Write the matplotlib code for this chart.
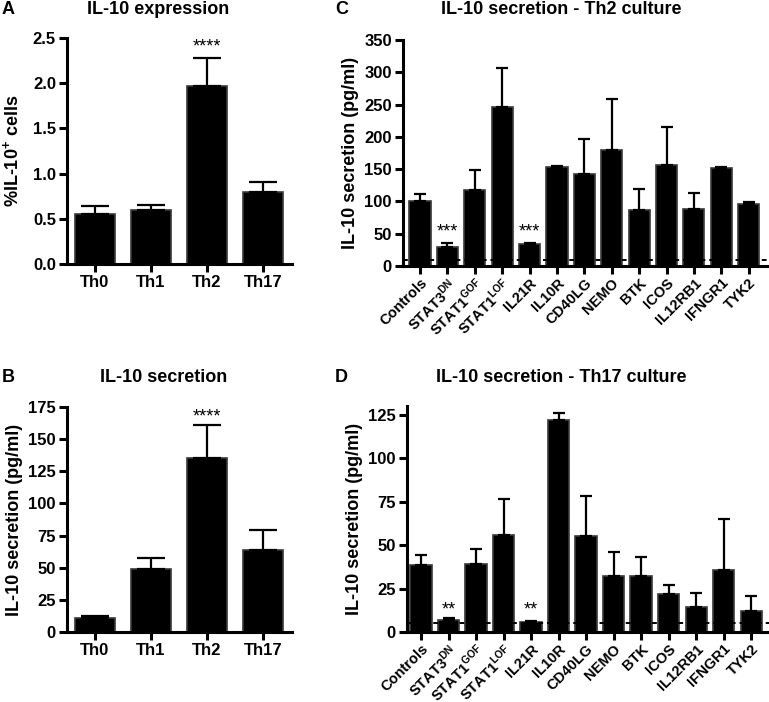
import numpy as np
import matplotlib
matplotlib.use("Agg")
import matplotlib.pyplot as plt

plt.rcParams['font.family'] = ['Liberation Sans', 'DejaVu Sans']
plt.rcParams['font.weight'] = 'bold'
plt.rcParams['mathtext.fontset'] = 'custom'
plt.rcParams['mathtext.rm'] = 'Liberation Sans'

# panel A / B data
th_groups = ['Th0', 'Th1', 'Th2', 'Th17']
expr_mean = [0.55, 0.60, 1.97, 0.80]
expr_err = [0.09, 0.05, 0.31, 0.11]
sec_mean = [10.7, 49, 135.5, 64]
sec_err = [1.8, 8.5, 25.5, 15]

# panel C / D data
genes = ['Controls', r'STAT3$^{\mathrm{DN}}$', r'STAT1$^{\mathrm{GOF}}$', r'STAT1$^{\mathrm{LOF}}$',
         'IL21R', 'IL10R', 'CD40LG', 'NEMO', 'BTK', 'ICOS', 'IL12RB1', 'IFNGR1', 'TYK2']
th2_mean = [101, 29.5, 118, 246, 34, 153, 143, 180, 87, 157, 88, 152, 96]
th2_err = [11, 6, 31, 61, 2, 2, 53, 79, 33, 58, 25, 2, 3]
th17_mean = [38.3, 7.1, 39, 56, 5.8, 122, 55, 32.5, 32.3, 22.1, 14.4, 35.6, 11.9]
th17_err = [6.2, 1.2, 9, 20.5, 0.3, 4, 23.5, 13.5, 10.8, 5, 8.3, 29.5, 9]

W, H = 769, 702
fig = plt.figure(figsize=(W / 100, H / 100), dpi=100)


def box(l, r, t, b):
    return [l / W, (H - b) / H, (r - l) / W, (b - t) / H]


def style(ax):
    for s in ['top', 'right']:
        ax.spines[s].set_visible(False)
    for s in ['left', 'bottom']:
        ax.spines[s].set_linewidth(2.2)
    ax.tick_params(width=2.2, length=6, labelsize=12, pad=2)
    for lab in ax.get_yticklabels():
        lab.set_fontweight('bold')


def bars(ax, x, mean, err, width, capsize):
    ax.bar(x, mean, width=width, color='black', edgecolor='#3a3a3a', linewidth=1.2, zorder=2)
    ax.errorbar(x, mean, yerr=[np.zeros(len(err)), err], fmt='none', ecolor='black',
                elinewidth=1.6, capsize=capsize, capthick=1.6, zorder=3)


star_kw = dict(ha='center', va='center', fontsize=13, fontweight='normal')

# A
axA = fig.add_axes(box(67, 292, 38, 264))
xa = np.arange(len(th_groups))
bars(axA, xa, expr_mean, expr_err, 0.71, 10)
axA.set_xlim(-0.5, 3.52)
axA.set_ylim(0, 2.5)
axA.set_yticks(np.arange(0, 2.51, 0.5))
axA.set_yticklabels([f'{v:.1f}' for v in np.arange(0, 2.51, 0.5)])
axA.set_xticks(xa)
axA.set_xticklabels(th_groups, fontweight='bold')
axA.set_ylabel(r'%IL-10$^{\mathrm{+}}$ cells', fontsize=13, fontweight='bold', labelpad=8)
style(axA)
axA.text(2, 2.4, '****', **star_kw)

# B
axB = fig.add_axes(box(67, 292, 407, 632))
bars(axB, xa, sec_mean, sec_err, 0.71, 10)
axB.set_xlim(-0.5, 3.52)
axB.set_ylim(0, 175)
axB.set_yticks(np.arange(0, 176, 25))
axB.set_xticks(xa)
axB.set_xticklabels(th_groups, fontweight='bold')
axB.set_ylabel('IL-10 secretion (pg/ml)', fontsize=13, fontweight='bold', labelpad=4)
style(axB)
axB.text(2, 167, '****', **star_kw)

# C
axC = fig.add_axes(box(403, 769, 40, 266))
xg = np.arange(len(genes))
bars(axC, xg, th2_mean, th2_err, 0.77, 4)
axC.axhline(10, color='black', lw=1.4, ls=(0, (2.5, 2)), zorder=4)
axC.set_xlim(-0.62, 12.74)
axC.set_ylim(0, 350)
axC.set_yticks(np.arange(0, 351, 50))
axC.set_xticks(xg)
axC.set_xticklabels(genes, rotation=45, ha='right', va='top', rotation_mode='anchor',
                    fontsize=10.5, fontweight='bold')
axC.set_ylabel('IL-10 secretion (pg/ml)', fontsize=13, fontweight='bold', labelpad=4)
style(axC)
axC.tick_params(axis='x', labelsize=10.5, pad=1)
for xi in [1, 4]:
    axC.text(xi, 52, '***', **star_kw)

# D
axD = fig.add_axes(box(407, 769, 406, 632))
bars(axD, xg, th17_mean, th17_err, 0.77, 4)
axD.axhline(5, color='black', lw=1.4, ls=(0, (2.5, 2)), zorder=4)
axD.set_xlim(-0.51, 12.65)
axD.set_ylim(0, 130)
axD.set_yticks(np.arange(0, 126, 25))
axD.set_xticks(xg)
axD.set_xticklabels(genes, rotation=45, ha='right', va='top', rotation_mode='anchor',
                    fontsize=10.5, fontweight='bold')
axD.set_ylabel('IL-10 secretion (pg/ml)', fontsize=13, fontweight='bold', labelpad=4)
style(axD)
axD.tick_params(axis='x', labelsize=10.5, pad=1)
for xi in [1, 4]:
    axD.text(xi, 12.5, '**', **star_kw)

# titles and panel letters
tkw = dict(fontsize=13, fontweight='bold', ha='center', va='center')
fig.text(158 / W, 1 - 9 / H, 'IL-10 expression', **tkw)
fig.text(164 / W, 1 - 378 / H, 'IL-10 secretion', **tkw)
fig.text(561 / W, 1 - 9 / H, 'IL-10 secretion - Th2 culture', **tkw)
fig.text(561 / W, 1 - 378 / H, 'IL-10 secretion - Th17 culture', **tkw)
lkw = dict(fontsize=13, fontweight='bold', ha='left', va='center')
fig.text(2 / W, 1 - 9 / H, 'A', **lkw)
fig.text(2 / W, 1 - 378 / H, 'B', **lkw)
fig.text(335 / W, 1 - 9 / H, 'C', **lkw)
fig.text(335 / W, 1 - 378 / H, 'D', **lkw)

fig.savefig('out.png', dpi=100)
